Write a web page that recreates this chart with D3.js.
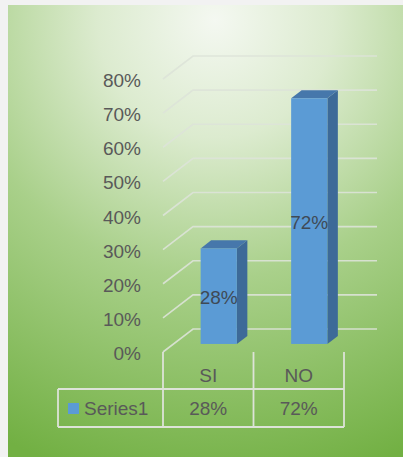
<!DOCTYPE html>
<html>
<head>
<meta charset="utf-8">
<script src="https://cdn.jsdelivr.net/npm/d3@7"></script>
<style>
  html, body { margin: 0; padding: 0; background: #ffffff; }
  svg { display: block; }
  text { font-family: "Liberation Sans", Arial, sans-serif; }
</style>
</head>
<body>
<svg id="chart" width="403" height="457"></svg>
<script>
// ---- data ----
const categories = ["SI", "NO"];
const values = [0.28, 0.72];
const seriesName = "Series1";
const yTicks = [0, 0.1, 0.2, 0.3, 0.4, 0.5, 0.6, 0.7, 0.8];

const svg = d3.select("#chart");
const W = 403, H = 457;

// background
const defs = svg.append("defs");
const rg = defs.append("radialGradient").attr("id", "bg")
  .attr("gradientUnits", "userSpaceOnUse")
  .attr("cx", 215).attr("cy", 20).attr("r", 470)
  .attr("fx", 215).attr("fy", 20);
rg.append("stop").attr("offset", "0").attr("stop-color", "#f4f8f1");
rg.append("stop").attr("offset", "0.25").attr("stop-color", "#dcebcf");
rg.append("stop").attr("offset", "0.55").attr("stop-color", "#a9d08a");
rg.append("stop").attr("offset", "1").attr("stop-color", "#72b043");

svg.append("rect").attr("x", 0).attr("y", 0).attr("width", W).attr("height", H).attr("fill", "#f2f2f2");
svg.append("rect").attr("x", 8).attr("y", 5).attr("width", W - 8).attr("height", H - 5).attr("fill", "url(#bg)");

// geometry
const front0 = 352, front80 = 79;
const y = d3.scaleLinear().domain([0, 0.8]).range([front0, front80]);
const x = d3.scaleBand().domain(categories).range([163, 344]);
const DX = 30, DY = -23;           // full depth offset
const d0 = 0.35, d1 = 0.7;         // bar depth fractions
const barW = x.bandwidth() * 0.4;
const gridCol = "#dde3d8";
const textCol = "#595959";

// gridlines: side diagonal + back wall
const grid = svg.append("g");
yTicks.forEach(t => {
  grid.append("path")
    .attr("d", `M${x.range()[0]},${y(t)} L${x.range()[0] + DX},${y(t) + DY} L${x.range()[1] + DX + 3},${y(t) + DY}`)
    .attr("fill", "none").attr("stroke", gridCol).attr("stroke-width", 1.6).attr("opacity", 0.9);
});

// y tick labels
svg.append("g").selectAll("text").data(yTicks).join("text")
  .attr("x", 141).attr("y", d => y(d) + 3)
  .attr("text-anchor", "end").attr("dominant-baseline", "middle")
  .attr("font-size", 19).attr("fill", textCol)
  .text(d => d3.format(".0%")(d));

// bars
const bars = svg.append("g");
categories.forEach((c, i) => {
  const v = values[i];
  const cx = x(c) + x.bandwidth() / 2;
  const xf0 = cx - barW / 2 + d0 * DX, xf1 = xf0 + barW;
  const yfB = y(0) + d0 * DY, yfT = y(v) + d0 * DY;
  const ddx = (d1 - d0) * DX, ddy = (d1 - d0) * DY;
  // side
  bars.append("path")
    .attr("d", `M${xf1},${yfT} L${xf1 + ddx},${yfT + ddy} L${xf1 + ddx},${yfB + ddy} L${xf1},${yfB} Z`)
    .attr("fill", "#3d6a98");
  // top
  bars.append("path")
    .attr("d", `M${xf0},${yfT} L${xf0 + ddx},${yfT + ddy} L${xf1 + ddx},${yfT + ddy} L${xf1},${yfT} Z`)
    .attr("fill", "#4677ab");
  // front
  bars.append("rect")
    .attr("x", xf0).attr("y", yfT).attr("width", barW).attr("height", yfB - yfT)
    .attr("fill", "#5b9bd5");
  // data label
  bars.append("text")
    .attr("x", (xf0 + xf1) / 2).attr("y", (yfT + yfB) / 2 + 3)
    .attr("text-anchor", "middle").attr("dominant-baseline", "middle")
    .attr("font-size", 19).attr("fill", "#3f4a55")
    .text(d3.format(".0%")(v));
});

// data table
const tbl = svg.append("g").attr("stroke", gridCol).attr("stroke-width", 1.8).attr("fill", "none");
const tTop = 389, tBot = 427, tLeft = 58;
const xEdges = [x.range()[0], x("NO"), x.range()[1]];
tbl.append("line").attr("x1", tLeft).attr("x2", x.range()[1]).attr("y1", tTop).attr("y2", tTop);
tbl.append("line").attr("x1", tLeft).attr("x2", x.range()[1]).attr("y1", tBot).attr("y2", tBot);
tbl.append("line").attr("x1", tLeft).attr("x2", tLeft).attr("y1", tTop).attr("y2", tBot);
xEdges.forEach(xe => {
  tbl.append("line").attr("x1", xe).attr("x2", xe).attr("y1", y(0)).attr("y2", tBot);
});

// category labels
svg.append("g").selectAll("text").data(categories).join("text")
  .attr("x", d => x(d) + x.bandwidth() / 2).attr("y", 377)
  .attr("text-anchor", "middle").attr("dominant-baseline", "middle")
  .attr("font-size", 19).attr("fill", textCol).text(d => d);

// table row
svg.append("rect").attr("x", 68).attr("y", 403).attr("width", 11).attr("height", 11).attr("fill", "#5b9bd5");
svg.append("text").attr("x", 84).attr("y", 410)
  .attr("dominant-baseline", "middle").attr("font-size", 19).attr("fill", textCol).text(seriesName);
svg.append("g").selectAll("text").data(categories).join("text")
  .attr("x", d => x(d) + x.bandwidth() / 2).attr("y", 410)
  .attr("text-anchor", "middle").attr("dominant-baseline", "middle")
  .attr("font-size", 19).attr("fill", textCol)
  .text((d, i) => d3.format(".0%")(values[i]));
</script>
</body>
</html>
